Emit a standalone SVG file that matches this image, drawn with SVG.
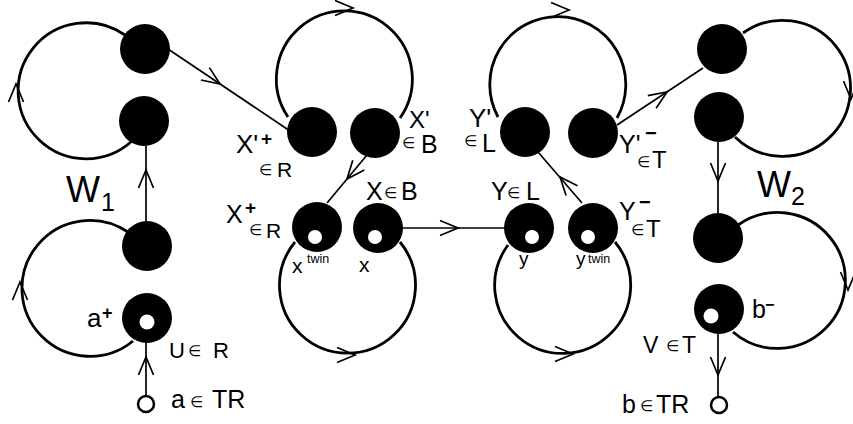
<svg xmlns="http://www.w3.org/2000/svg" xmlns:xlink="http://www.w3.org/1999/xlink" width="853" height="424" viewBox="0 0 853 424">
<style>
.loop{fill:none;stroke:#000;stroke-width:2.8}
.edge{fill:none;stroke:#000;stroke-width:1.7}
.chev{fill:none;stroke:#000;stroke-width:1.7}
.node{fill:#000}
.hole{fill:#fff}
.term{fill:#fff;stroke:#000;stroke-width:2.5}
.t{font-family:"Liberation Sans",Arial,sans-serif;fill:#000}
.el{font-family:"DejaVu Sans",sans-serif;font-size:15px;fill:#000}
.dash{fill:#000}
</style>
<defs>
<path id="chev" class="chev" d="M -7.5 18 L 0 0 L 7.5 18"/>
</defs>
<rect width="853" height="424" fill="#fff"/>
<g id="connectors">
<path class="loop" d="M 125 35 A 68 68 0 1 0 132 141"/>
<path class="loop" d="M 128 232 A 68 68 0 1 0 133 341"/>
<path class="loop" d="M 288 117 A 68 68 0 1 1 400 118"/>
<path class="loop" d="M 295 242 A 68 68 0 1 0 400 242"/>
<path class="loop" d="M 498 117 A 68 68 0 1 1 617 118"/>
<path class="loop" d="M 508 245 A 68 68 0 1 0 615 242"/>
<path class="loop" d="M 743 33 A 68 68 0 1 1 735 137"/>
<path class="loop" d="M 738 225 A 68 68 0 1 1 733 332"/>
<line class="edge" x1="146" y1="146" x2="146" y2="221"/>
<line class="edge" x1="146" y1="396" x2="146" y2="343"/>
<line class="edge" x1="168" y1="49" x2="290" y2="131"/>
<line class="edge" x1="367" y1="155" x2="327" y2="203"/>
<line class="edge" x1="402" y1="228" x2="505" y2="228"/>
<line class="edge" x1="582" y1="203" x2="538" y2="152"/>
<line class="edge" x1="617" y1="125" x2="703" y2="68"/>
<line class="edge" x1="718" y1="142" x2="718" y2="213"/>
<line class="edge" x1="718" y1="333" x2="718" y2="397"/>
<use xlink:href="#chev" transform="translate(16 84)"/>
<use xlink:href="#chev" transform="translate(20 282)"/>
<use xlink:href="#chev" transform="translate(146 170)"/>
<use xlink:href="#chev" transform="translate(146 357)"/>
<use xlink:href="#chev" transform="translate(220 84) rotate(124.4)"/>
<use xlink:href="#chev" transform="translate(353 8) rotate(90)"/>
<use xlink:href="#chev" transform="translate(347 179) rotate(219.8)"/>
<use xlink:href="#chev" transform="translate(355 355) rotate(90)"/>
<use xlink:href="#chev" transform="translate(458 228) rotate(90)"/>
<use xlink:href="#chev" transform="translate(569 10) rotate(90)"/>
<use xlink:href="#chev" transform="translate(560 177) rotate(-40.8)"/>
<use xlink:href="#chev" transform="translate(573 354) rotate(90)"/>
<use xlink:href="#chev" transform="translate(667 92) rotate(56.5)"/>
<use xlink:href="#chev" transform="translate(851 99) rotate(180)"/>
<use xlink:href="#chev" transform="translate(718 181) rotate(180)"/>
<use xlink:href="#chev" transform="translate(848 290) rotate(180)"/>
<use xlink:href="#chev" transform="translate(718 375) rotate(180)"/>
</g>
<g id="w1-label"><text class="t" x="66" y="202" font-size="36">W</text><text class="t" x="101" y="211" font-size="25">1</text></g>
<g id="w2-label"><text class="t" x="757" y="197" font-size="36">W</text><text class="t" x="791" y="205" font-size="25">2</text></g>
<g id="n1"><circle class="node" cx="145" cy="49" r="25"/></g>
<g id="n2"><circle class="node" cx="144" cy="121" r="25"/></g>
<g id="n3"><circle class="node" cx="147" cy="246" r="25"/></g>
<g id="n-a-plus"><circle class="node" cx="147" cy="318" r="25"/><circle class="hole" cx="147" cy="322" r="7.5"/>
<text class="t" x="87" y="327" font-size="26">a</text><text class="t" x="102" y="319" font-size="18" font-weight="bold">+</text>
<text class="t" x="169" y="358" font-size="22">U</text><text class="el" x="188" y="356">∈</text><text class="t" x="213" y="358" font-size="22">R</text></g>
<g id="n-a"><circle class="term" cx="146" cy="404" r="8"/>
<text class="t" x="171" y="408" font-size="25">a</text><text class="el" x="190" y="407">∈</text><text class="t" x="212" y="408" font-size="25">TR</text></g>
<g id="n-xp-plus"><circle class="node" cx="312" cy="132" r="25"/>
<text class="t" x="236" y="153" font-size="26">X'</text><text class="t" x="261" y="145" font-size="19" font-weight="bold">+</text>
<text class="el" x="259" y="175">∈</text><text class="t" x="277" y="177" font-size="21">R</text></g>
<g id="n-xp"><circle class="node" cx="375" cy="133" r="25"/>
<text class="t" x="409" y="128" font-size="24">X'</text>
<text class="el" x="402" y="148">∈</text><text class="t" x="421" y="153" font-size="25">B</text></g>
<g id="n-x-plus"><circle class="node" cx="317" cy="227" r="25"/><circle class="hole" cx="315" cy="237" r="7"/>
<text class="t" x="226" y="223" font-size="25">X</text><text class="t" x="245" y="214" font-size="19" font-weight="bold">+</text>
<text class="el" x="249" y="235">∈</text><text class="t" x="266" y="238" font-size="21">R</text>
<text class="t" x="292" y="273" font-size="21">x</text><text class="t" x="307" y="263" font-size="12.5">twin</text></g>
<g id="n-x"><circle class="node" cx="378" cy="228" r="25"/><circle class="hole" cx="375" cy="237" r="7"/>
<text class="t" x="366" y="200" font-size="25">X</text><text class="el" x="384" y="198">∈</text><text class="t" x="401" y="200" font-size="25">B</text>
<text class="t" x="359" y="272" font-size="21">x</text></g>
<g id="n-yp"><circle class="node" cx="525" cy="132" r="25"/>
<text class="t" x="469" y="127" font-size="26">Y'</text>
<text class="el" x="464" y="146">∈</text><text class="t" x="482" y="152" font-size="25">L</text></g>
<g id="n-yp-minus"><circle class="node" cx="593" cy="133" r="25"/>
<text class="t" x="619" y="153" font-size="25">Y'</text><text class="t" x="645" y="140" font-size="20" font-weight="bold">−</text>
<text class="el" x="637" y="167">∈</text><text class="t" x="652" y="168" font-size="24">T</text></g>
<g id="n-y"><circle class="node" cx="529" cy="228" r="25"/><circle class="hole" cx="532" cy="237" r="7"/>
<text class="t" x="491" y="200" font-size="25">Y</text><text class="el" x="507" y="198">∈</text><text class="t" x="526" y="200" font-size="25">L</text>
<text class="t" x="519" y="265" font-size="19">y</text></g>
<g id="n-y-minus"><circle class="node" cx="593" cy="228" r="25"/><circle class="hole" cx="588" cy="237" r="7"/>
<text class="t" x="619" y="220" font-size="25">Y</text><text class="t" x="639" y="209" font-size="20" font-weight="bold">−</text>
<text class="el" x="631" y="235">∈</text><text class="t" x="646" y="237" font-size="24">T</text>
<text class="t" x="576" y="265" font-size="19">y</text><text class="t" x="588" y="263" font-size="12.5">twin</text></g>
<g id="n5"><circle class="node" cx="722" cy="49" r="25"/></g>
<g id="n6"><circle class="node" cx="719" cy="117" r="25"/></g>
<g id="n7"><circle class="node" cx="718" cy="238" r="25"/></g>
<g id="n-b-minus"><circle class="node" cx="719" cy="309" r="25"/><circle class="hole" cx="711" cy="316" r="7.5"/>
<text class="t" x="752" y="318" font-size="25">b</text><text class="t" x="765" y="310" font-size="16" font-weight="bold">−</text>
<text class="t" x="643" y="353" font-size="23">V</text><text class="el" x="666" y="351">∈</text><text class="t" x="682" y="353" font-size="23">T</text></g>
<g id="n-b"><circle class="term" cx="719" cy="405" r="8"/>
<text class="t" x="622" y="413" font-size="25">b</text><text class="el" x="640" y="411">∈</text><text class="t" x="656" y="413" font-size="25">TR</text></g>
</svg>
